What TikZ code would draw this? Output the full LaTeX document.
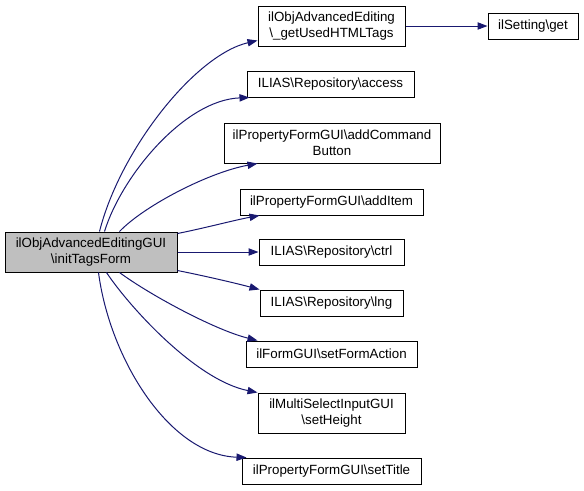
\documentclass[tikz,border=0pt]{standalone}
\usepackage{fontspec}
\setmainfont{Liberation Sans}
\usetikzlibrary{arrows.meta,calc}
\definecolor{edgeblue}{HTML}{191970}
\definecolor{maingray}{HTML}{BFBFBF}
\tikzset{
  box/.style={draw=black, line width=0.75pt, rectangle, inner sep=0pt, align=center,
    font=\fontsize{10pt}{12pt}\selectfont},
  wd/.style={minimum width=#1*0.75pt},
  ht/.style={minimum height=#1*0.75pt},
  edge/.style={draw=edgeblue, line width=0.75pt,
    -{Triangle[length=7.5pt,width=5.5pt]}},
}
\begin{document}
\begin{tikzpicture}[x=0.75pt,y=-0.75pt]
\useasboundingbox (0,0) rectangle (584,490);
\node[box, fill=maingray, wd=172, ht=40] (main) at (91,252) {ilObjAdvancedEditingGUI\\\textbackslash initTagsForm};
\node[box, fill=white, wd=147, ht=40] (getused) at (331.5,26) {ilObjAdvancedEditing\\\textbackslash \_getUsedHTMLTags};
\node[box, fill=white, wd=90, ht=26] (setget) at (533,26) {ilSetting\textbackslash get};
\node[box, fill=white, wd=167, ht=26] (access) at (330.5,84) {ILIAS\textbackslash Repository\textbackslash access};
\node[box, fill=white, wd=216, ht=40] (addcmd) at (332,143) {ilPropertyFormGUI\textbackslash addCommand\\Button};
\node[box, fill=white, wd=183, ht=26] (additem) at (331.5,202) {ilPropertyFormGUI\textbackslash addItem};
\node[box, fill=white, wd=145, ht=26] (ctrl) at (331.5,252) {ILIAS\textbackslash Repository\textbackslash ctrl};
\node[box, fill=white, wd=143, ht=26] (lng) at (331.5,303) {ILIAS\textbackslash Repository\textbackslash lng};
\node[box, fill=white, wd=171, ht=26] (formaction) at (331.5,354) {ilFormGUI\textbackslash setFormAction};
\node[box, fill=white, wd=147, ht=40] (setheight) at (331.5,413) {ilMultiSelectInputGUI\\\textbackslash setHeight};
\node[box, fill=white, wd=179, ht=26] (settitle) at (331.5,471) {ilPropertyFormGUI\textbackslash setTitle};

\draw[edge] ($(main.north west)+(95,0)$) .. controls (120,150) and (195,55) .. ($(getused.south west)+(0,-6)$);
\draw[edge] ($(main.north west)+(100,0)$) .. controls (122,175) and (185,100) .. ($(access.south west)+(3,0)$);
\draw[edge] ($(main.north west)+(115,0)$) .. controls (145,205) and (210,172) .. ($(addcmd.south west)+(34,0)$);
\draw[edge] ($(main.north east)+(0,2)$) .. controls (205,228) and (235,220) .. ($(additem.south west)+(20,0)$);
\draw[edge] (main.east) -- (ctrl.west);
\draw[edge] ($(main.south east)+(0,-2)$) .. controls (205,276) and (235,283) .. (lng.north west);
\draw[edge] ($(main.south west)+(115,0)$) .. controls (150,295) and (215,330) .. ($(formaction.north west)+(12,0)$);
\draw[edge] ($(main.south west)+(102,0)$) .. controls (128,305) and (195,380) .. (setheight.north west);
\draw[edge] ($(main.south west)+(94,0)$) .. controls (110,360) and (170,455) .. ($(settitle.north west)+(5,0)$);
\draw[edge] (getused.east) -- (setget.west);
\end{tikzpicture}
\end{document}
